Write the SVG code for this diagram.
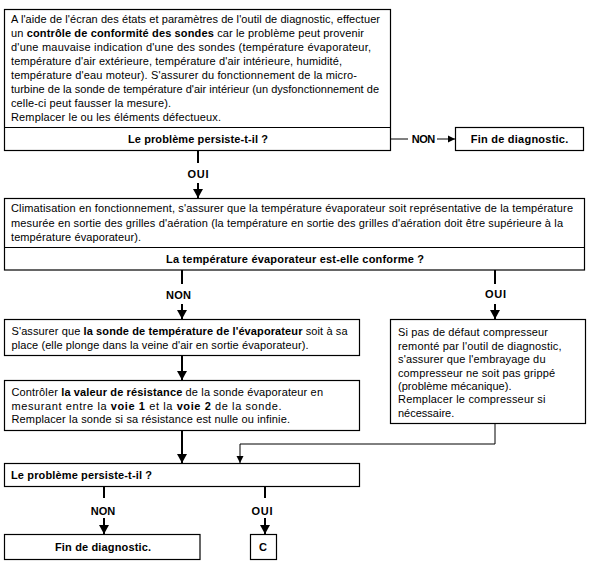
<svg xmlns="http://www.w3.org/2000/svg" width="589" height="572" viewBox="0 0 589 572">
<defs>
<style>
.box{fill:#fff;stroke:#000;stroke-width:1.2}
.t{font-family:"Liberation Sans",Arial,sans-serif;font-size:11px;fill:#000}
.b{font-weight:bold}
.c{stroke:#000;fill:none}
.thick{stroke-width:2}
.thin{stroke-width:1}
</style>
<marker id="ah" markerUnits="userSpaceOnUse" markerWidth="10" markerHeight="10" refX="9" refY="5" orient="auto">
<path d="M0,0 L9,5 L0,10 Z" fill="#000"/>
</marker>
<marker id="ahs" markerUnits="userSpaceOnUse" markerWidth="8" markerHeight="8" refX="7" refY="4" orient="auto">
<path d="M0,0.5 L7,4 L0,7.5 Z" fill="#000"/>
</marker>
</defs>
<rect width="589" height="572" fill="#fff"/>

<g id="connectors">
<line class="c thick" x1="198" y1="151" x2="198" y2="163"/>
<line class="c thick" x1="198" y1="183" x2="198" y2="198" marker-end="url(#ah)"/>
<line class="c thin" x1="391" y1="139" x2="408" y2="139"/>
<line class="c thin" x1="437" y1="139" x2="455" y2="139" marker-end="url(#ahs)"/>
<line class="c thick" x1="182" y1="270" x2="182" y2="284"/>
<line class="c thick" x1="182" y1="304" x2="182" y2="319" marker-end="url(#ah)"/>
<line class="c thick" x1="495" y1="270" x2="495" y2="284"/>
<line class="c thick" x1="495" y1="304" x2="495" y2="319" marker-end="url(#ah)"/>
<line class="c thick" x1="182" y1="356" x2="182" y2="380" marker-end="url(#ah)"/>
<line class="c thick" x1="182" y1="430" x2="182" y2="463" marker-end="url(#ah)"/>
<polyline class="c thin" points="495,424 495,444 240,444 240,463" marker-end="url(#ahs)"/>
<line class="c thick" x1="104" y1="486" x2="104" y2="498"/>
<line class="c thick" x1="104" y1="518" x2="104" y2="534" marker-end="url(#ah)"/>
<line class="c thick" x1="265" y1="486" x2="265" y2="498"/>
<line class="c thick" x1="265" y1="518" x2="265" y2="534" marker-end="url(#ah)"/>
<text class="t b" x="198" y="178" text-anchor="middle" textLength="21" lengthAdjust="spacing">OUI</text>
<text class="t b" x="423.5" y="143" text-anchor="middle" textLength="23.5" lengthAdjust="spacing">NON</text>
<text class="t b" x="178.5" y="299" text-anchor="middle" textLength="25" lengthAdjust="spacing">NON</text>
<text class="t b" x="495.5" y="298" text-anchor="middle" textLength="21" lengthAdjust="spacing">OUI</text>
<text class="t b" x="103" y="515" text-anchor="middle" textLength="24.5" lengthAdjust="spacing">NON</text>
<text class="t b" x="262" y="515" text-anchor="middle" textLength="21" lengthAdjust="spacing">OUI</text>
</g>

<g id="box1">
<rect class="box" x="4.5" y="9.5" width="386" height="141"/>
<line class="c thin" x1="4.5" y1="127.5" x2="390.5" y2="127.5"/>
<text class="t" x="11" y="23" textLength="369" lengthAdjust="spacing">A l'aide de l'écran des états et paramètres de l'outil de diagnostic, effectuer</text>
<text class="t" x="11" y="37" textLength="353" lengthAdjust="spacing">un <tspan class="b">contrôle de conformité des sondes</tspan> car le problème peut provenir</text>
<text class="t" x="11" y="51" textLength="360" lengthAdjust="spacing">d'une mauvaise indication d'une des sondes (température évaporateur,</text>
<text class="t" x="11" y="65" textLength="331" lengthAdjust="spacing">température d'air extérieure, température d'air intérieure, humidité,</text>
<text class="t" x="11" y="79" textLength="346" lengthAdjust="spacing">température d'eau moteur). S'assurer du fonctionnement de la micro-</text>
<text class="t" x="11" y="93" textLength="368" lengthAdjust="spacing">turbine de la sonde de température d'air intérieur (un dysfonctionnement de</text>
<text class="t" x="11" y="107" textLength="160" lengthAdjust="spacing">celle-ci peut fausser la mesure).</text>
<text class="t" x="11" y="121" textLength="210" lengthAdjust="spacing">Remplacer le ou les éléments défectueux.</text>
<text class="t b" x="198" y="143" text-anchor="middle" textLength="140" lengthAdjust="spacing">Le problème persiste-t-il ?</text>
</g>

<g id="fin1">
<rect class="box" x="455.5" y="127.5" width="128" height="23"/>
<text class="t b" x="519.5" y="143" text-anchor="middle" textLength="97.5" lengthAdjust="spacing">Fin de diagnostic.</text>
</g>

<g id="box2">
<rect class="box" x="4.5" y="198.5" width="580" height="71.5"/>
<line class="c thin" x1="4.5" y1="247.5" x2="584.5" y2="247.5"/>
<text class="t" x="11" y="212" textLength="562" lengthAdjust="spacing">Climatisation en fonctionnement, s'assurer que la température évaporateur soit représentative de la température</text>
<text class="t" x="11" y="226.5" textLength="552" lengthAdjust="spacing">mesurée en sortie des grilles d'aération (la température en sortie des grilles d'aération doit être supérieure à la</text>
<text class="t" x="11" y="241" textLength="130" lengthAdjust="spacing">température évaporateur).</text>
<text class="t b" x="295" y="263" text-anchor="middle" textLength="258" lengthAdjust="spacing">La température évaporateur est-elle conforme ?</text>
</g>

<g id="box3">
<rect class="box" x="4.5" y="319.5" width="355" height="36"/>
<text class="t" x="11.5" y="335" textLength="336" lengthAdjust="spacing">S'assurer que <tspan class="b">la sonde de température de l'évaporateur</tspan> soit à sa</text>
<text class="t" x="11.5" y="348.5" textLength="297" lengthAdjust="spacing">place (elle plonge dans la veine d'air en sortie évaporateur).</text>
</g>

<g id="box4">
<rect class="box" x="4.5" y="380.5" width="355" height="50"/>
<text class="t" x="11.5" y="396" textLength="311.5" lengthAdjust="spacing">Contrôler <tspan class="b">la valeur de résistance</tspan> de la sonde évaporateur en</text>
<text class="t" x="11.5" y="409.5" textLength="270" lengthAdjust="spacing">mesurant entre la <tspan class="b">voie 1</tspan> et la <tspan class="b">voie 2</tspan> de la sonde.</text>
<text class="t" x="11.5" y="423" textLength="278.5" lengthAdjust="spacing">Remplacer la sonde si sa résistance est nulle ou infinie.</text>
</g>

<g id="box5">
<rect class="box" x="390.5" y="319.5" width="195" height="104"/>
<text class="t" x="398" y="336" textLength="150" lengthAdjust="spacing">Si pas de défaut compresseur</text>
<text class="t" x="398" y="349.5" textLength="163.5" lengthAdjust="spacing">remonté par l'outil de diagnostic,</text>
<text class="t" x="398" y="363" textLength="147.5" lengthAdjust="spacing">s'assurer que l'embrayage du</text>
<text class="t" x="398" y="376.5" textLength="157" lengthAdjust="spacing">compresseur ne soit pas grippé</text>
<text class="t" x="398" y="390" textLength="113.5" lengthAdjust="spacing">(problème mécanique).</text>
<text class="t" x="398" y="403" textLength="147.5" lengthAdjust="spacing">Remplacer le compresseur si</text>
<text class="t" x="398" y="416.5">nécessaire.</text>
</g>

<g id="box6">
<rect class="box" x="4.5" y="463.5" width="355" height="23"/>
<text class="t b" x="11" y="478.5" textLength="141" lengthAdjust="spacing">Le problème persiste-t-il ?</text>
</g>

<g id="fin2">
<rect class="box" x="4.5" y="534.5" width="195.5" height="25"/>
<text class="t b" x="103" y="550.5" text-anchor="middle" textLength="96" lengthAdjust="spacing">Fin de diagnostic.</text>
</g>

<g id="boxC">
<rect class="box" x="250.5" y="534.5" width="26" height="25"/>
<text class="t b" x="263" y="550.5" text-anchor="middle">C</text>
</g>
</svg>
